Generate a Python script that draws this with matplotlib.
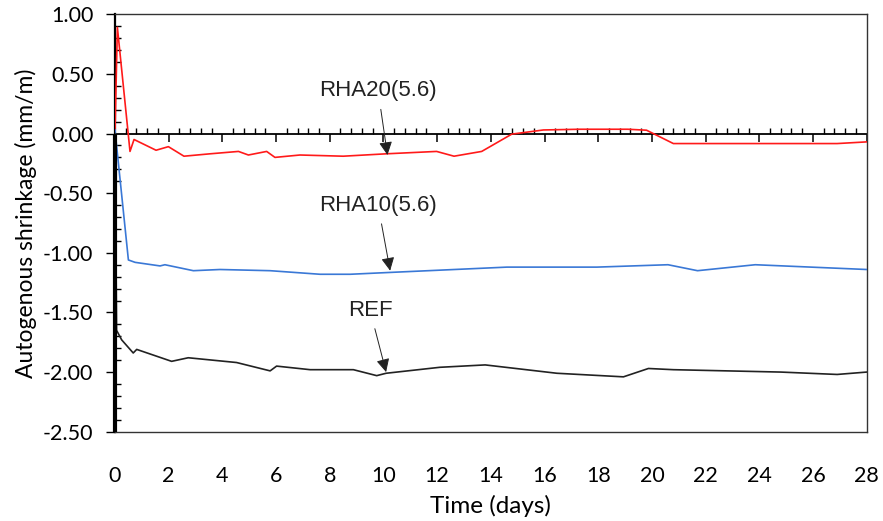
import matplotlib
matplotlib.use("Agg")
import matplotlib.pyplot as plt
from matplotlib.ticker import MultipleLocator

# data (days, mm/m)
rha20_t = [0, 0.09, 0.56, 0.71, 1.53, 1.99, 2.57, 3.54, 4.6, 4.97, 5.65, 5.96, 6.89, 8.5,
           10.1, 11.98, 12.63, 13.66, 14.78, 15.96, 17.3, 19.1, 19.8, 20.8, 26.9, 28]
rha20_v = [0, 0.89, -0.15, -0.05, -0.14, -0.11, -0.19, -0.17, -0.15, -0.18, -0.15, -0.20, -0.18, -0.19,
           -0.17, -0.15, -0.19, -0.15, -0.005, 0.03, 0.036, 0.036, 0.028, -0.084, -0.084, -0.07]

rha10_t = [0, 0.5, 0.75, 1.68, 1.86, 2.92, 3.91, 5.78, 7.64, 8.76, 10.2, 14.6, 17.95,
           20.6, 21.7, 23.85, 28]
rha10_v = [0.03, -1.06, -1.08, -1.11, -1.10, -1.15, -1.14, -1.15, -1.18, -1.18, -1.165, -1.12, -1.12,
           -1.10, -1.15, -1.10, -1.14]

ref_t = [0, 0.06, 0.25, 0.68, 0.81, 2.11, 2.73, 4.53, 5.78, 6.02, 7.27, 8.88, 9.75, 10.1,
         12.1, 13.79, 16.46, 18.94, 19.87, 20.8, 24.8, 26.9, 28]
ref_v = [0, -1.65, -1.73, -1.84, -1.81, -1.91, -1.88, -1.92, -1.99, -1.95, -1.98, -1.98, -2.03, -2.01,
         -1.96, -1.94, -2.01, -2.04, -1.97, -1.98, -2.0, -2.02, -2.0]

xticks = list(range(0, 29, 2))
yticks = [1.0, 0.5, 0.0, -0.5, -1.0, -1.5, -2.0, -2.5]

# labels: (text, text position, arrow tip)
labels = [("RHA20(5.6)", (9.8, 0.36), (10.15, -0.18)),
          ("RHA10(5.6)", (9.8, -0.60), (10.25, -1.15)),
          ("REF", (9.5, -1.48), (10.1, -2.0))]

tick_font = "Lato"
fig = plt.figure(figsize=(8.83, 5.21), dpi=100)
ax = fig.add_axes([0.1302, 0.1714, 0.8513, 0.8012])

ax.plot(rha20_t, rha20_v, color="#ff1a1a", lw=1.2, zorder=3)
ax.plot(rha10_t, rha10_v, color="#3a78d6", lw=1.2, zorder=3)
ax.plot(ref_t, ref_v, color="#222222", lw=1.2, zorder=3)

for txt, pos, tip in labels:
    ax.annotate(txt, xy=tip, xytext=pos, ha="center", va="center",
                fontsize=16, family="Liberation Sans", color="#222222",
                arrowprops=dict(arrowstyle="-|>", color="#222222", lw=0.7,
                                mutation_scale=20, shrinkA=4, shrinkB=0))

ax.set_xlim(0, 28)
ax.set_ylim(-2.5, 1.0)
ax.set_xticks(xticks)
ax.set_yticks(yticks)
ax.set_yticklabels([f"{v:.2f}" for v in yticks])
ax.yaxis.set_minor_locator(MultipleLocator(0.1))

ax.tick_params(axis="x", length=0, pad=25, labelsize=15.5)
ax.tick_params(axis="y", which="major", direction="out", length=6.5, width=1, pad=9, labelsize=15.5)
ax.tick_params(axis="y", which="minor", direction="in", length=4.5, width=1)
for lab in ax.get_xticklabels() + ax.get_yticklabels():
    lab.set_family(tick_font)

for side in ["top", "right", "bottom"]:
    ax.spines[side].set_linewidth(1)
    ax.spines[side].set_color("#333333")
ax.spines["left"].set_linewidth(1.6)
ax.vlines(0, -2.5, 0, color="black", lw=3, zorder=4, clip_on=False)

# crossing axis at zero with its own ticks
sec = ax.secondary_xaxis(0, transform=ax.transData)
sec.set_alignment("bottom")
sec.set_xticks(xticks)
sec.xaxis.set_minor_locator(MultipleLocator(0.4))
sec.tick_params(which="major", direction="out", length=6, width=1.1, labelbottom=False)
sec.tick_params(which="minor", direction="in", length=4.5, width=1)
sec.spines["bottom"].set_linewidth(1.3)

ax.set_xlabel("Time (days)", fontsize=17.5, family=tick_font, labelpad=6)
ax.set_ylabel("Autogenous shrinkage (mm/m)", fontsize=16.5, family=tick_font, labelpad=4)

fig.savefig("out.png", dpi=100)
